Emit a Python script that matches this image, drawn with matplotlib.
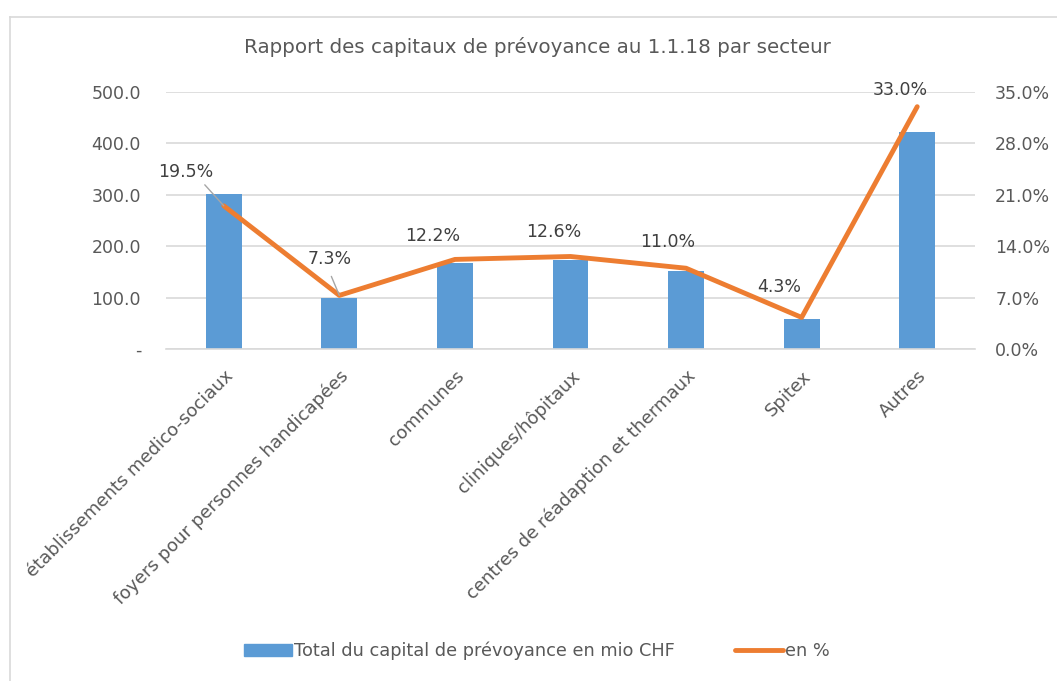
import matplotlib.pyplot as plt
from matplotlib.lines import Line2D
import numpy as np

# data
secteurs = ["établissements medico-sociaux", "foyers pour personnes handicapées",
            "communes", "cliniques/hôpitaux", "centres de réadaption et thermaux",
            "Spitex", "Autres"]
capital = [301, 99, 167, 173, 151, 59, 422]
pourcent = [19.5, 7.3, 12.2, 12.6, 11.0, 4.3, 33.0]

left_ticks = [0, 100, 200, 300, 400, 500]
right_ticks = [0, 7, 14, 21, 28, 35]

# label offsets in pixels (layout only)
lab_off = [(-38, 34), (-10, 36), (-22, 23), (-17, 24), (-18, 26), (-22, 30), (-17, 17)]

plt.rcParams['font.family'] = ['DejaVu Sans']
txt = '#595959'
blue = '#5B9BD5'
orange = '#ED7D31'
fs = 12.5

fig = plt.figure(figsize=(10.57, 6.81), dpi=100)
ax = fig.add_axes([166/1057, 1-349/681, (975-166)/1057, (349-92)/681])
ax2 = ax.twinx()

x = np.arange(len(secteurs))
ax.bar(x, capital, width=0.31, color=blue, zorder=2)
ax.set_xlim(-0.5, len(secteurs) - 0.5)
ax.set_ylim(0, 500)
ax.set_yticks(left_ticks)
ax.set_yticklabels(['-' if v == 0 else f'{v:.1f}' for v in left_ticks])
ax.yaxis.grid(True, color='#d9d9d9', lw=1.2, zorder=0)
ax.set_axisbelow(True)

ax2.plot(x, pourcent, color=orange, lw=3.5, solid_capstyle='round', zorder=3)
ax2.set_ylim(0, 35)
ax2.set_yticks(right_ticks)
ax2.set_yticklabels([f'{v:.1f}%' for v in right_ticks])

for i, p in enumerate(pourcent):
    ax2.annotate(f'{p:.1f}%', (x[i], p), xytext=lab_off[i], textcoords='offset pixels',
                 ha='center', va='center', fontsize=fs, color='#404040')
# leader lines on the first two labels
for i, (a, b) in [(0, (-19, 21)), (1, (-8, 19))]:
    ax2.annotate('', (x[i], pourcent[i]), xytext=(a, b), textcoords='offset pixels',
                 arrowprops=dict(arrowstyle='-', color='#a6a6a6', lw=1, shrinkA=0, shrinkB=0))

ax.set_xticks(x)
ax.set_xticklabels(secteurs, rotation=45, ha='right', rotation_mode='anchor', fontsize=13, color=txt)
for a in (ax, ax2):
    a.tick_params(length=0, labelsize=fs, labelcolor=txt)
    for s in a.spines.values():
        s.set_visible(False)
ax.tick_params(axis='x', labelsize=13, pad=13)
ax.tick_params(axis='y', pad=18)
ax2.tick_params(axis='y', pad=14.5)
ax.spines['bottom'].set_visible(True)
ax.spines['bottom'].set_color('#d9d9d9')
ax.spines['bottom'].set_linewidth(1.2)

fig.text(0.508, 1-47/681, 'Rapport des capitaux de prévoyance au 1.1.18 par secteur',
         ha='center', va='center', fontsize=14.3, color=txt)

handles = [plt.Rectangle((0, 0), 1, 1, color=blue),
           Line2D([0], [0], color=orange, lw=3.5, solid_capstyle='round')]
fig.legend(handles, ['Total du capital de prévoyance en mio CHF', 'en %'],
           loc='center', bbox_to_anchor=(0.508, 1-651/681), ncol=2, frameon=False,
           fontsize=12.8, labelcolor=txt, handlelength=2.7, handletextpad=0.1,
           columnspacing=3.4)

# outer chart frame
fig.add_artist(Line2D([10/1057, 10/1057], [0, 1-17/681], color='#d9d9d9', lw=1.2))
fig.add_artist(Line2D([10/1057, 1], [1-17/681, 1-17/681], color='#d9d9d9', lw=1.2))

fig.savefig('out.png', dpi=100)
